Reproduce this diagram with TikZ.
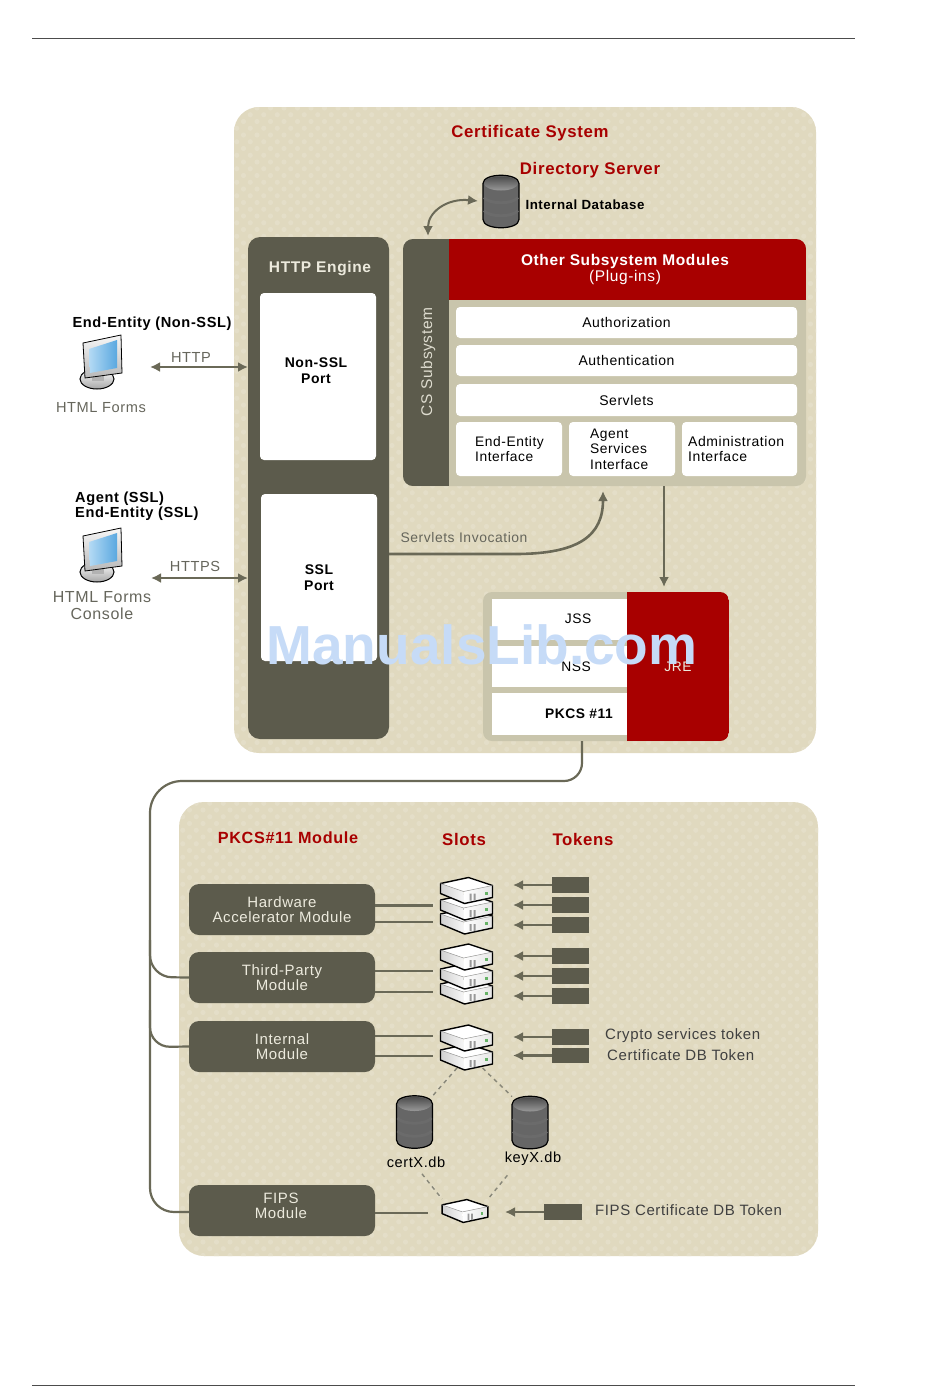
\documentclass[tikz,border=0pt]{standalone}
\usepackage{fontspec}
\setmainfont{Liberation Sans}[LetterSpace=4]
\newfontfamily\markfont{Liberation Sans}
\usetikzlibrary{arrows.meta,positioning,calc}
\definecolor{panelbeige}{HTML}{E0D9BF}
\definecolor{dotbeige}{HTML}{E4DEC8}
\definecolor{olivedark}{HTML}{5C5B4C}
\definecolor{olivemid}{HTML}{C9C5AC}
\definecolor{wireolive}{HTML}{6A6957}
\definecolor{certred}{HTML}{A80000}
\definecolor{greylabel}{HTML}{66665C}
\definecolor{marktext}{HTML}{C6DBF7}
\definecolor{softwhite}{HTML}{ECEADD}
\definecolor{screenlight}{HTML}{B4DAF4}
\definecolor{screendeep}{HTML}{5AA8E0}
\tikzset{
  wh/.style 2 args={minimum width=#1pt, minimum height=#2pt, inner sep=0pt, outer sep=0pt},
  panel/.style={rectangle, rounded corners=25pt, fill=panelbeige, anchor=north west},
  dotrow/.style={draw=dotbeige, line width=5.2pt, line cap=round, dash pattern=on 0pt off 13.5pt},
  darkbox/.style={rectangle, rounded corners=12pt, fill=olivedark, anchor=north west},
  modbox/.style={rectangle, rounded corners=10pt, fill=olivedark, anchor=north west, align=center, text=softwhite, font=\fontsize{15}{15.5}\selectfont},
  portbox/.style={rectangle, rounded corners=4pt, fill=white, anchor=north west},
  porttext/.style={align=center, font=\fontsize{14}{15.5}\selectfont\bfseries},
  rowbox/.style={rectangle, rounded corners=4pt, fill=white, align=center, font=\fontsize{14}{15.5}\selectfont},
  rowtext/.style={align=left, anchor=west, inner sep=0pt, font=\fontsize{13.8}{15.5}\selectfont},
  jrebox/.style={rectangle, fill=white, anchor=north west},
  jretext/.style={font=\fontsize{13.8}{15}\selectfont},
  tokenbox/.style={rectangle, fill=olivedark, anchor=north west},
  redtitle/.style={text=certred, font=\fontsize{16.8}{18}\selectfont\bfseries},
  blacklabel/.style={align=left, inner sep=0pt, font=\fontsize{14.6}{15.5}\selectfont\bfseries},
  greytext/.style={text=greylabel, align=center, font=\fontsize{14.6}{16.5}\selectfont},
  darktext/.style={text=black!75, anchor=west, inner sep=0pt, font=\fontsize{15}{16}\selectfont},
  dbtext/.style={font=\fontsize{14.6}{15}\selectfont},
  iconspot/.style={rectangle, inner sep=0pt, outer sep=0pt},
  arr/.style={-{Latex[length=10pt,width=10pt]}, line width=2.6pt, draw=wireolive},
  dblarr/.style={{Latex[length=10pt,width=10pt]}-{Latex[length=10pt,width=10pt]}, line width=2pt, draw=wireolive},
  wire/.style={line width=2.2pt, draw=wireolive},
  dashwire/.style={line width=1.4pt, draw=wireolive!80, dash pattern=on 4pt off 4pt},
  dbicon/.pic={
    \path[draw=black, line width=1.2pt, left color=black!60, middle color=black!22, right color=black!60]
      (-18,-18) -- (-18,18) .. controls (-18,29) and (18,29) .. (18,18) -- (18,-18) .. controls (18,-29) and (-18,-29) .. (-18,-18) -- cycle;
    \path[top color=black!70, bottom color=black!40] (0,-18) ellipse [x radius=17pt, y radius=7pt];
    \draw[line width=2.8pt, black!58] (-17,-4) .. controls (-12,3) and (12,3) .. (17,-4);
    \draw[line width=2.8pt, black!58] (-17,9) .. controls (-12,16) and (12,16) .. (17,9);
  },
  slotunit/.pic={
    \fill[white] (-26,-7) -- (2,-13) -- (26,-5) -- (-3,1) -- cycle;
    \path[left color=black!18, right color=black!3] (-26,-7) -- (-3,1) -- (-2,13) -- (-26,3) -- cycle;
    \path[left color=white, right color=black!10] (-3,1) -- (26,-5) -- (26,7) -- (-2,13) -- cycle;
    \draw[black, line width=1.4pt, line join=round] (-26,-7) -- (2,-13) -- (26,-5) -- (26,7) -- (-2,13) -- (-26,3) -- cycle;
    \draw[black!40, line width=.5pt] (-26,-7) -- (-3,1) -- (26,-5);
    \fill[black!40] (3,3) rectangle (5,10) (7,3) rectangle (9,10);
    \fill[green!50!black!60] (18,1) rectangle (21,4);
  },
  monitoricon/.pic={
    \draw[black, line width=1pt, top color=white, bottom color=black!35] (-3,18) ellipse [x radius=17pt, y radius=10pt];
    \fill[black!30] (-8,12) rectangle (4,20);
    \draw[black, line width=.8pt, top color=black!3, bottom color=black!28] (-17,-18) -- (21,-26) -- (22,12) -- (-15,17) -- cycle;
    \path[left color=screenlight, right color=screendeep] (-11,-12) -- (17,-21) -- (17,7) -- (-10,12) -- cycle;
  },
}
\begin{document}
\begin{tikzpicture}[x=1pt, y=-1pt]
\useasboundingbox (0,0) rectangle (950,1398);
\draw[black!70, line width=.6pt] (32,38) -- (855,38);
\draw[black!70, line width=.6pt] (32,1385) -- (855,1385);
\node[panel, wh={582}{646}] (certpanel) at (234,107) {};
\node[panel, wh={639}{454}] (pkcspanel) at (179,802) {};
\begin{scope}
  \clip[rounded corners=25pt] (234,107) rectangle (816,753) (179,802) rectangle (818,1256);
  \foreach \j in {8,...,93} {
    \draw[dotrow] (176,\j*13.5) -- (820,\j*13.5);
    \draw[dotrow] (182.75,\j*13.5+6.75) -- (820,\j*13.5+6.75);
  }
\end{scope}
\node[redtitle] (certtitle) at (530,133.5) {Certificate System};
\node[redtitle] (dirtitle) at (590,170.5) {Directory Server};
\node[iconspot, wh={36}{52}] (dbint) at (501,201.5) {};
\pic at (dbint) {dbicon};
\node[blacklabel, font=\fontsize{13.3}{15}\selectfont\bfseries] (dbintlabel) at (585,205) {Internal Database};
\node[darkbox, wh={141}{502}] (engine) at (248,237) {};
\node[text=softwhite, font=\fontsize{15.5}{16}\selectfont\bfseries] (enginetitle) at (320,268.5) {HTTP Engine};
\node[portbox, wh={116}{167}] (nonsslport) at (260,293) {};
\node[porttext] (nonssltext) at (316,370.5) {Non-SSL\\Port};
\node[portbox, wh={116}{167}] (sslport) at (261,494) {};
\node[porttext] (ssltext) at (319,577.5) {SSL\\Port};
\node[rectangle, rounded corners=10pt, fill=olivemid, anchor=north west, wh={403}{247},
  path picture={
    \fill[olivedark, sharp corners] (path picture bounding box.north west) rectangle ([xshift=46pt]path picture bounding box.south west);
    \fill[certred, sharp corners] ([xshift=46pt]path picture bounding box.north west) rectangle ([yshift=-61pt]path picture bounding box.north east);
  }] (csblock) at (403,239) {};
\node[rotate=90, text=softwhite!90!olivedark, font=\fontsize{15.5}{16}\selectfont] (cslabel) at (428,362) {CS Subsystem};
\node[text=white, align=center, font=\fontsize{15.5}{16.5}\selectfont\bfseries] (plugtitle) at (625,269.5) {Other Subsystem Modules\\{\mdseries (Plug-ins)}};
\node[rowbox, wh={341}{31}, anchor=north west] (rowauthz) at (456,307) {Authorization};
\node[rowbox, wh={341}{31}, below=7pt of rowauthz] (rowauthn) {Authentication};
\node[rowbox, wh={341}{32}, below=8pt of rowauthn] (rowservlets) {Servlets};
\node[rowbox, wh={106}{54}, anchor=north west] (rowee) at (456,422) {};
\node[rowbox, wh={106}{54}, right=7pt of rowee] (rowagent) {};
\node[rowbox, wh={115}{54}, right=7pt of rowagent] (rowadmin) {};
\node[rowtext] (eetext) at (475,449) {End-Entity\\Interface};
\node[rowtext] (agenttext) at (590,449) {Agent\\Services\\Interface};
\node[rowtext, font=\fontsize{14}{15.5}\selectfont] (admintext) at (688,449) {Administration\\Interface};
\draw[dblarr, shorten >=5pt] (428,236) .. controls (428,212) and (447,198) .. (dbint.west);
\node[rectangle, rounded corners=9pt, fill=olivemid, anchor=north west, wh={246}{149},
  path picture={
    \fill[certred, sharp corners] ([xshift=144pt]path picture bounding box.north west) rectangle (path picture bounding box.south east);
  }] (jreblock) at (483,592) {};
\node[jrebox, wh={135}{41}] (jss) at (492,599) {};
\node[jrebox, wh={135}{41}] (nss) at (492,646) {};
\node[jrebox, wh={135}{42}] (pkcs) at (492,693) {};
\node[jretext] (jsstext) at (578,619) {JSS};
\node[jretext] (nsstext) at (576,667) {NSS};
\node[jretext, font=\fontsize{13.8}{15}\selectfont\bfseries] (pkcstext) at (579,714) {PKCS \#11};
\node[jretext, text=softwhite] (jre) at (678,667) {JRE};
\draw[arr] (csblock.south -| 664,0) -- (664,587);
\coordinate (invokeend) at (603,491);
\draw[arr] (engine.east |- 0,554) -- (515,554) .. controls (580,554) and (603,535) .. (invokeend);
\node[greytext, font=\fontsize{13.9}{15}\selectfont] (invokelabel) at (464,538) {Servlets Invocation};
\node[blacklabel] (eenonssl) at (152,323.5) {End-Entity (Non-SSL)};
\node[iconspot, wh={45}{54}] (monitora) at (100,361) {};
\pic at (monitora) {monitoricon};
\node[greytext] (formsa) at (101,408) {HTML Forms};
\node[blacklabel, anchor=west] (eessl) at (75,506) {Agent (SSL)\\End-Entity (SSL)};
\node[iconspot, wh={45}{54}] (monitorb) at (100,554) {};
\pic at (monitorb) {monitoricon};
\node[greytext, font=\fontsize{16}{17}\selectfont] (formsb) at (102,605.5) {HTML Forms\\Console};
\coordinate (httpend) at (150,367);
\coordinate (httpsend) at (151,578);
\draw[dblarr] (httpend) -- (httpend -| engine.west);
\draw[dblarr] (httpsend) -- (httpsend -| engine.west);
\node[greytext] (httplabel) at (191,357) {HTTP};
\node[greytext] (httpslabel) at (195,566) {HTTPS};
\node[redtitle, font=\fontsize{16.2}{18}\selectfont\bfseries] (pkcstitle) at (288,838) {PKCS\#11 Module};
\node[redtitle] (slotstitle) at (464,839) {Slots};
\node[redtitle] (tokenstitle) at (583,839) {Tokens};
\node[modbox, wh={186}{51}] (modhw) at (189,884) {Hardware\\Accelerator Module};
\node[modbox, wh={186}{51}, below=17pt of modhw] (modthird) {Third-Party\\Module};
\node[modbox, wh={186}{51}, below=18pt of modthird] (modint) {Internal\\Module};
\node[modbox, wh={186}{51}] (modfips) at (189,1185) {};
\node[text=softwhite, align=center, font=\fontsize{15}{15.5}\selectfont] (fipstext) at (281,1206) {FIPS\\Module};
\draw[wire, rounded corners=18pt] (jreblock.south -| 582,0) -- (582,781) [rounded corners=32pt] -- (150,781) [rounded corners=24pt] -- (150,1212) -- (modfips.west |- 0,1212);
\draw[wire, rounded corners=22pt] (150,940) -- (150,977) -- (modthird.west);
\draw[wire, rounded corners=20pt] (150,1010) -- (150,1047) -- (modint.west);
\node[iconspot, wh={53}{58}] (stackhw) at (466.5,905.5) {};
\node[iconspot, wh={53}{58}] (stackthird) at (466.5,973) {};
\node[iconspot, wh={53}{43}] (stackint) at (466.5,1046.5) {};
\node[iconspot, wh={46}{24}] (stackfips) at (465,1211) {};
\pic at ([yshift=-15.5pt]stackhw.center) {slotunit};
\pic at ([yshift=-1.5pt]stackhw.center) {slotunit};
\pic at ([yshift=15pt]stackhw.center) {slotunit};
\pic at ([yshift=-18pt]stackthird.center) {slotunit};
\pic at ([yshift=-3pt]stackthird.center) {slotunit};
\pic at ([yshift=16pt]stackthird.center) {slotunit};
\pic at ([yshift=-10.5pt]stackint.center) {slotunit};
\pic at ([yshift=8.5pt]stackint.center) {slotunit};
\pic[scale=.88] at (stackfips.center) {slotunit};
\draw[wire, line width=2.6pt, shorten >=7pt] (stackhw.west -| modhw.east) -- (stackhw.west);
\draw[wire, shorten >=7pt] ([yshift=-16.5pt]stackhw.west -| modhw.east) -- ([yshift=-16.5pt]stackhw.west);
\draw[wire, shorten >=7pt] ([yshift=2pt]stackthird.west -| modthird.east) -- ([yshift=2pt]stackthird.west);
\draw[wire, shorten >=7pt] ([yshift=-19pt]stackthird.west -| modthird.east) -- ([yshift=-19pt]stackthird.west);
\draw[wire, shorten >=7pt] ([yshift=10.5pt]stackint.west -| modint.east) -- ([yshift=10.5pt]stackint.west);
\draw[wire, shorten >=7pt] ([yshift=-9.5pt]stackint.west -| modint.east) -- ([yshift=-9.5pt]stackint.west);
\draw[wire, shorten >=14pt] ([yshift=-2pt]stackfips.west -| modfips.east) -- ([yshift=-2pt]stackfips.west);
\node[tokenbox, wh={37}{16}] (tokhwa) at (552,877) {};
\node[tokenbox, wh={37}{16}, below=4pt of tokhwa] (tokhwb) {};
\node[tokenbox, wh={37}{16}, below=4pt of tokhwb] (tokhwc) {};
\node[tokenbox, wh={37}{16}] (tokthirda) at (552,948) {};
\node[tokenbox, wh={37}{16}, below=4pt of tokthirda] (tokthirdb) {};
\node[tokenbox, wh={37}{16}, below=4pt of tokthirdb] (tokthirdc) {};
\node[tokenbox, wh={37}{16}] (tokcrypto) at (552,1029) {};
\node[tokenbox, wh={37}{15}, below=3pt of tokcrypto] (tokcert) {};
\node[tokenbox, wh={38}{16}] (tokfips) at (544,1204) {};
\foreach \tok/\stack in {tokhwa/stackhw,tokhwb/stackhw,tokhwc/stackhw,tokthirda/stackthird,tokthirdb/stackthird,tokthirdc/stackthird,tokcrypto/stackint,tokcert/stackint}
  \draw[arr, shorten >=20pt] (\tok.west) -- (\tok.west -| \stack.east);
\draw[arr, shorten >=17pt] (tokfips.west) -- (tokfips.west -| stackfips.east);
\node[darktext] (cryptolabel) at (605,1036) {Crypto services token};
\node[darktext] (certlabel) at (607,1055) {Certificate DB Token};
\node[darktext] (fipslabel) at (595,1210) {FIPS Certificate DB Token};
\node[iconspot, wh={36}{52}] (dbcert) at (414.5,1122) {};
\node[iconspot, wh={36}{52}] (dbkey) at (530,1122.5) {};
\pic at (dbcert) {dbicon};
\pic at (dbkey) {dbicon};
\node[dbtext] (certxlabel) at (416,1162) {certX.db};
\node[dbtext] (keyxlabel) at (533,1159) {keyX.db};
\draw[dashwire] ([xshift=-9.5pt]stackint.south) -- (dbcert.north east);
\draw[dashwire] ([xshift=16pt]stackint.south) -- (dbkey.north west);
\draw[dashwire] ([xshift=6pt, yshift=-3pt]certxlabel.south) -- (stackfips.north west);
\draw[dashwire] ([xshift=6pt, yshift=-6pt]keyxlabel.south west) -- (stackfips.north east);
\node[text=marktext, font=\markfont\fontsize{55}{60}\selectfont\bfseries] (watermark) at (482,645) {ManualsLib.com};
\end{tikzpicture}
\end{document}
